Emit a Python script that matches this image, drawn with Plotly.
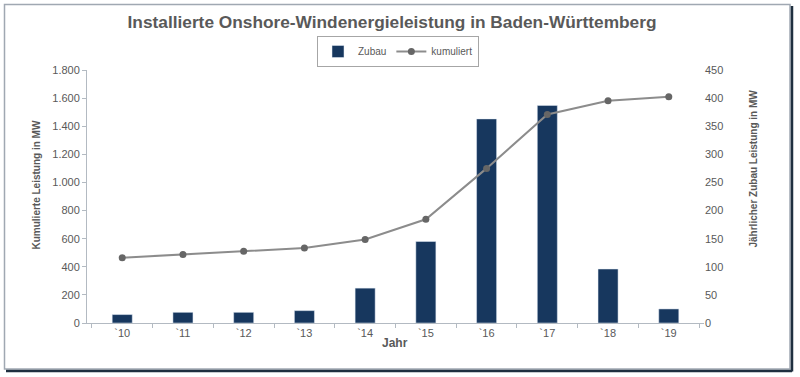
import plotly.graph_objects as go

years = ["`10", "`11", "`12", "`13", "`14", "`15", "`16", "`17", "`18", "`19"]
zubau = [15, 19, 19, 22, 62, 145, 363, 387, 96, 25]
kumuliert = [465, 488, 510, 533, 594, 738, 1100, 1484, 1581, 1610]

W, H = 800, 377
L, R, T, B = 87, 96, 70, 54
pw, ph = W - L - R, H - T - B

def px(x):
    return (x - L) / pw

def py(y):
    return (H - B - y) / ph

FONT = "Liberation Sans Narrow, Arial Narrow, Liberation Sans, Arial"
GRAY = "#595959"
AX = "#b3bac2"

fig = go.Figure()
fig.add_trace(go.Bar(x=years, y=zubau, name="Zubau", marker_color="#17375e",
                     width=0.33, yaxis="y"))
fig.add_trace(go.Scatter(x=years, y=kumuliert, name="kumuliert", mode="lines+markers",
                         line=dict(color="#8c8c8c", width=2),
                         marker=dict(color="#666666", size=7), yaxis="y2"))

fig.update_layout(
    width=W, height=H, margin=dict(l=L, r=R, t=T, b=B),
    paper_bgcolor="white", plot_bgcolor="white",
    separators=",.",
    font=dict(family=FONT, size=11, color=GRAY),
    title=dict(text="<b>Installierte Onshore-Windenergieleistung in Baden-Württemberg</b>",
               x=392 / W, xanchor="center", y=1 - 22 / H, yanchor="middle",
               font=dict(size=17.3, color=GRAY, family=FONT)),
    showlegend=True,
    legend=dict(orientation="h", x=px(398), xanchor="center", y=py(36), yanchor="top",
                bordercolor="#a6a6a6", borderwidth=1, font=dict(size=10, color=GRAY),
                itemwidth=30, tracegroupgap=0),
    bargap=0.67,
    xaxis=dict(type="category", showline=True, linecolor=AX, linewidth=1,
               ticks="outside", tickson="boundaries", ticklen=4, tickcolor=AX,
               tickfont=dict(size=11, color=GRAY), showgrid=False, zeroline=False),
    yaxis=dict(side="right", range=[0, 450], dtick=50, showline=False, ticks="",
               showgrid=False, zeroline=False, tickfont=dict(size=11, color=GRAY)),
    yaxis2=dict(side="left", overlaying="y", range=[0, 1800], dtick=200, tickformat=",d",
                showline=True, linecolor=AX, linewidth=1, ticks="outside", ticklen=4,
                tickcolor=AX, showgrid=False, zeroline=False,
                tickfont=dict(size=11, color=GRAY)),
    annotations=[
        dict(text="<b>Kumulierte Leistung in MW</b>", xref="paper", yref="paper",
             x=px(28), y=py(185), textangle=-90, showarrow=False,
             font=dict(size=10, color=GRAY)),
        dict(text="<b>Jährlicher Zubau Leistung in MW</b>", xref="paper", yref="paper",
             x=px(760), y=py(169), textangle=-90, showarrow=False,
             font=dict(size=10, color=GRAY)),
        dict(text="<b>Jahr</b>", xref="paper", yref="paper",
             x=px(395), y=py(352), showarrow=False,
             font=dict(size=12, color=GRAY)),
    ],
    shapes=[
        dict(type="rect", xref="paper", yref="paper", x0=px(4.5), x1=px(790), y0=py(369),
             y1=py(4.5), line=dict(color="#a0a8b2", width=1.5)),
        dict(type="line", xref="paper", yref="paper", x0=px(792), x1=px(792), y0=py(6),
             y1=py(371.5), line=dict(color="#1f3040", width=2.5)),
        dict(type="line", xref="paper", yref="paper", x0=px(6), x1=px(792), y0=py(371),
             y1=py(371), line=dict(color="#1f3040", width=2.5)),
    ],
)

fig.write_html("out.html", config={"displayModeBar": False},
               post_script="document.body.style.margin='0px';")
